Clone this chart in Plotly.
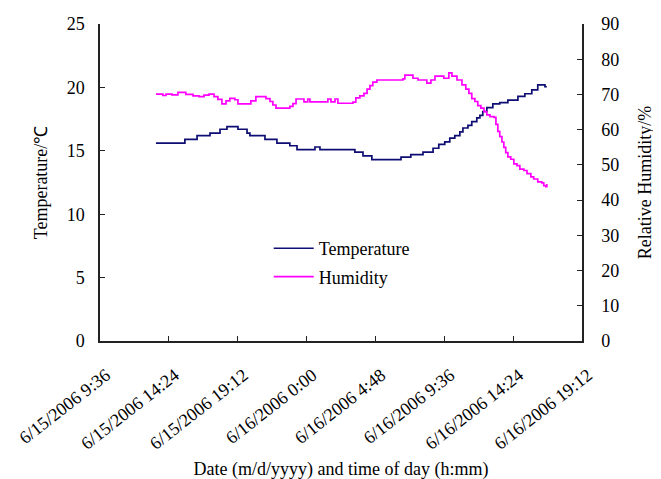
import plotly.graph_objects as go

# Temperature (°C), stepped readings
temp_time = [
    "2006-06-15 13:30", "2006-06-15 15:31", "2006-06-15 16:22", "2006-06-15 17:16",
    "2006-06-15 17:58", "2006-06-15 18:27", "2006-06-15 19:13", "2006-06-15 19:51",
    "2006-06-15 20:03", "2006-06-15 21:06", "2006-06-15 21:56", "2006-06-15 22:50",
    "2006-06-15 23:20", "2006-06-16 00:35", "2006-06-16 00:56", "2006-06-16 03:22",
    "2006-06-16 03:56", "2006-06-16 04:33", "2006-06-16 06:35", "2006-06-16 07:16",
    "2006-06-16 08:07", "2006-06-16 08:49", "2006-06-16 09:13", "2006-06-16 09:38",
    "2006-06-16 09:59", "2006-06-16 10:20", "2006-06-16 10:41", "2006-06-16 10:54",
    "2006-06-16 11:15", "2006-06-16 11:31", "2006-06-16 11:52", "2006-06-16 12:05",
    "2006-06-16 12:17", "2006-06-16 12:34", "2006-06-16 12:59", "2006-06-16 13:28",
    "2006-06-16 14:02", "2006-06-16 14:44", "2006-06-16 15:13", "2006-06-16 15:42",
    "2006-06-16 16:07", "2006-06-16 16:37", "2006-06-16 16:45",
]
temp_val = [
    15.6, 15.9, 16.2, 16.4,
    16.7, 16.9, 16.7, 16.4,
    16.2, 15.9, 15.6, 15.4,
    15.1, 15.3, 15.1, 14.9,
    14.6, 14.3, 14.5, 14.7,
    14.9, 15.2, 15.5, 15.7,
    16.0, 16.2, 16.5, 16.8,
    17.0, 17.3, 17.6, 17.8,
    18.1, 18.4, 18.7, 18.8,
    19.0, 19.3, 19.5, 19.8,
    20.2, 20.05, 20.05,
]

# Relative humidity (%)
hum_time = [
    "2006-06-15 13:30", "2006-06-15 13:59", "2006-06-15 14:12", "2006-06-15 14:37",
    "2006-06-15 15:02", "2006-06-15 15:35", "2006-06-15 16:05", "2006-06-15 16:30",
    "2006-06-15 16:51", "2006-06-15 17:12", "2006-06-15 17:33", "2006-06-15 17:49",
    "2006-06-15 18:06", "2006-06-15 18:23", "2006-06-15 18:39", "2006-06-15 19:00",
    "2006-06-15 19:13", "2006-06-15 20:07", "2006-06-15 20:28", "2006-06-15 21:10",
    "2006-06-15 21:27", "2006-06-15 21:39", "2006-06-15 21:52", "2006-06-15 22:50",
    "2006-06-15 23:03", "2006-06-15 23:16", "2006-06-15 23:49", "2006-06-16 00:05",
    "2006-06-16 00:14", "2006-06-16 01:29", "2006-06-16 01:42", "2006-06-16 01:59",
    "2006-06-16 02:11", "2006-06-16 03:14", "2006-06-16 03:26", "2006-06-16 03:43",
    "2006-06-16 04:00", "2006-06-16 04:13", "2006-06-16 04:25", "2006-06-16 04:37",
    "2006-06-16 04:54", "2006-06-16 06:43", "2006-06-16 06:51", "2006-06-16 07:25",
    "2006-06-16 07:46", "2006-06-16 08:23", "2006-06-16 08:40", "2006-06-16 08:57",
    "2006-06-16 09:34", "2006-06-16 09:55", "2006-06-16 10:08", "2006-06-16 10:29",
    "2006-06-16 10:50", "2006-06-16 11:06", "2006-06-16 11:19", "2006-06-16 11:31",
    "2006-06-16 11:44", "2006-06-16 11:56", "2006-06-16 12:09", "2006-06-16 12:22",
    "2006-06-16 12:34", "2006-06-16 12:47", "2006-06-16 13:04", "2006-06-16 13:12",
    "2006-06-16 13:20", "2006-06-16 13:28", "2006-06-16 13:37", "2006-06-16 13:45",
    "2006-06-16 13:53", "2006-06-16 14:02", "2006-06-16 14:14", "2006-06-16 14:27",
    "2006-06-16 14:40", "2006-06-16 14:52", "2006-06-16 15:09", "2006-06-16 15:22",
    "2006-06-16 15:38", "2006-06-16 15:50", "2006-06-16 16:07", "2006-06-16 16:24",
    "2006-06-16 16:32", "2006-06-16 16:41", "2006-06-16 16:45",
]
hum_val = [
    70.1, 69.7, 70.1, 69.9,
    70.6, 70.0, 69.6, 69.4,
    69.8, 70.1, 69.4, 68.6,
    67.3, 68.2, 68.9, 68.5,
    67.3, 68.2, 69.4, 68.8,
    68.0, 67.0, 66.1, 66.6,
    67.4, 68.7, 67.9, 68.7,
    67.9, 68.7, 67.9, 68.7,
    67.5, 67.8, 69.0, 69.6,
    70.3, 71.5, 72.5, 73.5,
    74.1, 74.4, 75.5, 74.6,
    74.1, 73.2, 74.1, 75.2,
    74.6, 76.1, 75.2, 74.1,
    72.7, 71.5, 70.3, 68.8,
    68.0, 66.8, 66.1, 65.1,
    64.2, 63.7, 63.5, 61.5,
    59.5, 58.0, 56.5, 55.0,
    53.5, 52.3, 51.6, 50.3,
    49.8, 48.8, 48.4, 47.5,
    46.6, 46.0, 45.2, 44.9,
    44.1, 43.8, 44.6,
]

x_tickvals = [
    "2006-06-15 09:36", "2006-06-15 14:24", "2006-06-15 19:12", "2006-06-16 00:00",
    "2006-06-16 04:48", "2006-06-16 09:36", "2006-06-16 14:24", "2006-06-16 19:12",
]
x_ticktext = [
    "6/15/2006 9:36", "6/15/2006 14:24", "6/15/2006 19:12", "6/16/2006 0:00",
    "6/16/2006 4:48", "6/16/2006 9:36", "6/16/2006 14:24", "6/16/2006 19:12",
]
temp_ticks = [0, 5, 10, 15, 20, 25]
hum_ticks = [0, 10, 20, 30, 40, 50, 60, 70, 80, 90]

FONT = "Liberation Serif, Times New Roman, serif"

fig = go.Figure()
fig.add_trace(go.Scatter(
    x=temp_time, y=temp_val, name="Temperature", mode="lines",
    line=dict(color="#0d0d73", width=1.7, shape="hv"), yaxis="y",
    legendgroup="t",
))
fig.add_trace(go.Scatter(
    x=hum_time, y=hum_val, name="Humidity", mode="lines",
    line=dict(color="#ff00ff", width=1.7, shape="hv"), yaxis="y2",
    legendgroup="h",
))

axis_common = dict(
    showgrid=False, zeroline=False, showline=True, linecolor="#222222", linewidth=1.5,
    ticks="inside", ticklen=5, tickwidth=1.2, tickcolor="#222222",
    automargin=False,
)

fig.update_layout(
    width=661, height=479,
    margin=dict(l=92, r=87, t=16, b=146),
    paper_bgcolor="white", plot_bgcolor="white",
    font=dict(family=FONT, size=18, color="black"),
    showlegend=True,
    legend=dict(
        x=0.35, y=0.35, xanchor="left", yanchor="top",
        bgcolor="rgba(0,0,0,0)", font=dict(family=FONT, size=18),
        itemwidth=40, traceorder="grouped", tracegroupgap=2,
    ),
    xaxis=dict(
        type="date",
        range=["2006-06-15 09:36", "2006-06-16 19:12"],
        tickmode="array", tickvals=x_tickvals, ticktext=x_ticktext,
        tickangle=-38, ticklabelstandoff=15, ticklabelshift=6,
        tickfont=dict(family=FONT, size=18, color="black"),
        title=dict(text="Date (m/d/yyyy) and time of day (h:mm)",
                   font=dict(family=FONT, size=18), standoff=10),
        **axis_common,
    ),
    yaxis=dict(
        range=[0, 25], tickmode="array", tickvals=temp_ticks,
        tickfont=dict(family=FONT, size=18, color="black"),
        title=dict(text="Temperature/℃", font=dict(family=FONT, size=18), standoff=14),
        ticklabelstandoff=10,
        **axis_common,
    ),
    yaxis2=dict(
        range=[0, 90], tickmode="array", tickvals=hum_ticks,
        overlaying="y", side="right", anchor="x",
        tickfont=dict(family=FONT, size=18, color="black"),
        title=dict(text="Relative Humidity/%", font=dict(family=FONT, size=18), standoff=20),
        ticklabelstandoff=14,
        **axis_common,
    ),
)

fig.write_html("out.html")
